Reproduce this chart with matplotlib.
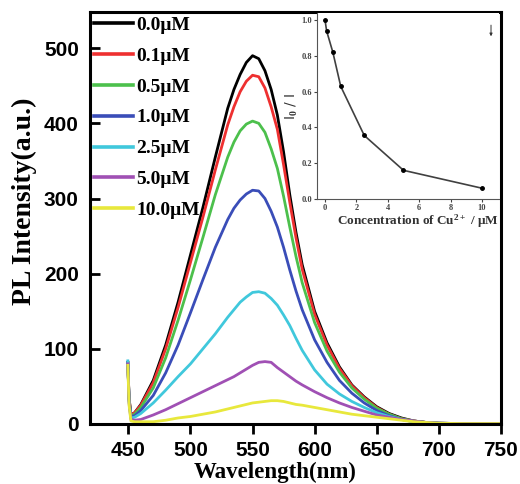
import matplotlib
matplotlib.use("Agg")
import matplotlib.pyplot as plt

plt.rcParams['mathtext.fontset'] = 'custom'
plt.rcParams['mathtext.rm'] = 'Liberation Serif:bold'
plt.rcParams['mathtext.it'] = 'Liberation Serif:bold'
plt.rcParams['mathtext.bf'] = 'Liberation Serif:bold'

# wavelength grid (nm)
wl = [449.5, 450.5, 452, 455, 460, 470, 480, 490, 500, 510, 520, 530, 535, 540,
      545, 550, 555, 560, 565, 570, 575, 580, 585, 590, 600, 610, 620, 630, 640,
      650, 660, 670, 680, 690, 700, 720, 750]

pl_00 = [82, 35, 12, 15, 26, 58, 105, 162, 225, 288, 355, 420, 445, 465,
         481, 490, 486, 470, 445, 411, 362, 305, 255, 212, 150, 108, 76, 52, 36,
         23, 14, 8, 4, 2, 1, 0.5, 0.5]
pl_01 = [82, 35, 12, 15, 25, 55, 100, 155, 215, 275, 338, 398, 422, 442,
         456, 464, 462, 447, 422, 392, 345, 295, 248, 206, 146, 105, 74, 51, 35,
         22, 13, 7, 4, 2, 1, 0.5, 0.5]
pl_05 = [82, 33, 11, 13, 22, 48, 88, 138, 192, 248, 305, 355, 375, 390,
         399, 403, 400, 388, 366, 340, 303, 262, 223, 188, 135, 97, 69, 48, 33,
         21, 13, 7, 4, 2, 1, 0.5, 0.5]
pl_10 = [82, 32, 10, 11, 18, 38, 68, 105, 148, 192, 235, 272, 287, 298,
         306, 311, 310, 300, 283, 262, 235, 205, 177, 152, 112, 82, 58, 41, 28,
         18, 11, 6, 3, 2, 1, 0.5, 0.5]
pl_25 = [84, 30, 8, 9, 14, 28, 45, 63, 80, 100, 120, 142, 152, 162,
         169, 175, 176, 174, 167, 158, 145, 131, 114, 98, 72, 53, 40, 30, 22,
         15, 10, 6, 3, 2, 1, 0.5, 0.5]
pl_50 = [80, 28, 6, 5, 6, 12, 19, 27, 35, 43, 51, 59, 63, 68,
         73, 78, 82, 83, 82, 75, 69, 63, 57, 52, 43, 35, 28, 22, 17,
         12, 9, 6, 4, 2, 1, 0.5, 0.5]
pl_100 = [78, 25, 4, 3, 3, 3, 5, 8, 10, 13, 16, 20, 22, 24,
          26, 28, 29, 30, 31, 31, 30, 28, 26, 25, 22, 19, 16, 13, 11,
          9, 7, 5, 3, 2, 1, 0.5, 0.5]

labels = ['0.0\u03bcM', '0.1\u03bcM', '0.5\u03bcM', '1.0\u03bcM',
          '2.5\u03bcM', '5.0\u03bcM', '10.0\u03bcM']
colors = ['#000000', '#ee3030', '#4cc04c', '#3a4db8', '#40c8dc', '#a050b4', '#e8e83c']
series = [pl_00, pl_01, pl_05, pl_10, pl_25, pl_50, pl_100]

# inset: quenching ratio vs Cu2+ concentration
conc = [0, 0.1, 0.5, 1.0, 2.5, 5.0, 10.0]
ratio = [1.0, 0.94, 0.82, 0.63, 0.355, 0.16, 0.06]

fig = plt.figure(figsize=(5.2, 4.84), dpi=100)
ax = fig.add_axes([0.173, 0.124, 0.790, 0.851])

for y, c, lab in zip(series, colors, labels):
    ax.plot(wl, y, color=c, lw=2.0, label=lab)

ax.set_xlim(419, 750)
ax.set_ylim(0, 548)
ax.set_xticks([450, 500, 550, 600, 650, 700, 750])
ax.set_yticks([0, 100, 200, 300, 400, 500])
for s in ax.spines.values():
    s.set_linewidth(2.2)
ax.tick_params(axis='y', direction='in', length=7, width=2, pad=8)
ax.tick_params(axis='x', direction='out', length=7, width=2, pad=5)
for t in ax.get_xticklabels() + ax.get_yticklabels():
    t.set_fontfamily('Liberation Sans')
    t.set_fontweight('bold')
    t.set_fontsize(15)

ax.set_xlabel('Wavelength(nm)', fontfamily='Liberation Serif', fontweight='bold',
              fontsize=16.5)
ax.xaxis.set_label_coords(0.45, -0.093)
ax.set_ylabel('PL Intensity(a.u.)', fontfamily='Liberation Serif', fontweight='bold',
              fontsize=20)
ax.yaxis.set_label_coords(-0.128, 0.54)

leg = ax.legend(loc='upper left', frameon=False, handlelength=2.0, handletextpad=0.15,
                labelspacing=0.68, borderaxespad=0.0, borderpad=0.22,
                prop={'family': 'Liberation Serif', 'weight': 'bold', 'size': 14})
for h in leg.get_lines():
    h.set_linewidth(2.6)

# inset
ins = fig.add_axes([0.610, 0.589, 0.350, 0.384])
ins.plot(conc, ratio, color='#404040', lw=1.2, marker='o', ms=2.5,
         mfc='black', mec='black')
ins.set_xlim(-0.5, 11.1)
ins.set_ylim(0, 1.04)
ins.set_xticks([0, 2, 4, 6, 8, 10])
ins.set_yticks([0.0, 0.2, 0.4, 0.6, 0.8, 1.0])
ins.set_yticklabels(['0.0', '0.2', '0.4', '0.6', '0.8', '1.0'])
ins.spines['top'].set_visible(False)
ins.spines['right'].set_visible(False)
ins.spines['left'].set_color('#555555')
ins.spines['bottom'].set_color('#555555')
ins.tick_params(direction='out', length=2.5, width=0.8, colors='#444444', pad=1.2)
for t in ins.get_xticklabels() + ins.get_yticklabels():
    t.set_fontfamily('Liberation Serif')
    t.set_fontweight('bold')
    t.set_fontsize(6)
ins.set_ylabel('I$_0$ / I', fontsize=10, color='#333333', labelpad=1)
ins.set_xlabel('Concentration of Cu$^{2+}$ / \u03bcM', fontfamily='Liberation Serif',
               fontweight='bold', fontsize=9.5, color='#333333', labelpad=0)
ins.xaxis.set_label_coords(0.555, -0.075)
ins.annotate('', xy=(0.955, 0.86), xytext=(0.955, 0.95), xycoords='axes fraction',
             arrowprops=dict(arrowstyle='-|>', color='#333333', lw=0.7,
                             mutation_scale=4))

fig.savefig('out.png', dpi=100)
